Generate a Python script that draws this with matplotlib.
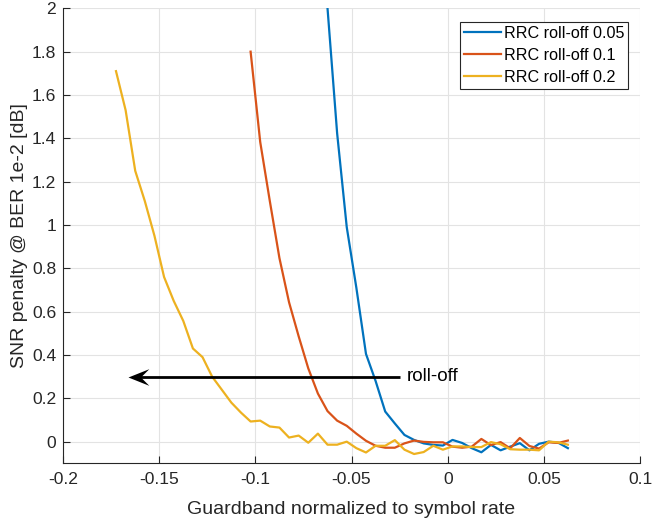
import numpy as np
import matplotlib
matplotlib.use("Agg")
import matplotlib.pyplot as plt
from matplotlib.path import Path

plt.rcParams['font.family'] = ['Liberation Sans', 'DejaVu Sans']
plt.rcParams['axes.unicode_minus'] = False

# ---- data ----
step = 0.005
x_005 = np.round(np.arange(-0.0625, 0.0626, step), 4)
y_005 = [2.0, 1.423, 0.99, 0.71, 0.405, 0.28, 0.139, 0.084, 0.031, 0.008,
         -0.008, -0.015, -0.018, 0.008, -0.006, -0.03, -0.049, -0.015, -0.04,
         -0.023, -0.007, -0.04, -0.01, 0.0, -0.005, -0.03]

x_010 = np.round(np.arange(-0.1025, 0.0626, step), 4)
y_010 = [1.80, 1.383, 1.11, 0.847, 0.643, 0.486, 0.338, 0.222, 0.141, 0.097,
         0.073, 0.037, 0.004, -0.019, -0.028, -0.028, -0.008, 0.005, -0.001,
         -0.003, -0.003, -0.023, -0.028, -0.023, 0.0125, -0.016, -0.002,
         -0.031, 0.017, -0.02, -0.032, -0.003, -0.006, 0.005]

x_020 = np.round(np.arange(-0.1725, 0.0626, step), 4)
y_020 = [1.71, 1.53, 1.25, 1.11, 0.95, 0.76, 0.65, 0.557, 0.43, 0.39, 0.30,
         0.24, 0.18, 0.134, 0.093, 0.097, 0.07, 0.065, 0.019, 0.028, -0.005,
         0.037, -0.014, -0.014, 0.0, -0.03, -0.05, -0.019, -0.019, 0.007,
         -0.037, -0.057, -0.048, -0.019, -0.037, -0.022, -0.022, -0.025,
         -0.025, -0.002, -0.012, -0.035, -0.037, -0.037, -0.04, 0.0, -0.003,
         -0.014]

labels = ['RRC roll-off 0.05', 'RRC roll-off 0.1', 'RRC roll-off 0.2']
colors = ['#0072BD', '#D95319', '#EDB120']

xticks = [-0.2, -0.15, -0.1, -0.05, 0, 0.05, 0.1]
xticklabels = ['-0.2', '-0.15', '-0.1', '-0.05', '0', '0.05', '0.1']
yticks = [0, 0.2, 0.4, 0.6, 0.8, 1.0, 1.2, 1.4, 1.6, 1.8, 2.0]
yticklabels = ['0', '0.2', '0.4', '0.6', '0.8', '1', '1.2', '1.4', '1.6', '1.8', '2']

arrow_start = (-0.025, 0.3)
arrow_end = (-0.1663, 0.3)
arrow_text = 'roll-off'

# ---- figure ----
fig = plt.figure(figsize=(6.52, 5.2), dpi=100)
ax = fig.add_axes([0.0968, 0.109, 0.9816 - 0.0968, 0.984 - 0.109])

dark = '#262626'
for xs, ys, c, lab in zip([x_005, x_010, x_020], [y_005, y_010, y_020], colors, labels):
    ax.plot(xs, ys, color=c, lw=1.6, label=lab, solid_joinstyle='round')

ax.set_xlim(-0.2, 0.1)
ax.set_ylim(-0.1, 2.0)
ax.set_xticks(xticks)
ax.set_xticklabels(xticklabels)
ax.set_yticks(yticks)
ax.set_yticklabels(yticklabels)
ax.tick_params(direction='in', length=5, width=0.8, colors=dark, labelsize=12.6,
               top=False, right=False)
ax.tick_params(axis='x', pad=6)
ax.tick_params(axis='y', pad=5)
ax.grid(True, color='#e3e3e3', lw=0.8)
ax.set_axisbelow(True)
for s in ['top', 'right']:
    ax.spines[s].set_visible(False)
for s in ['left', 'bottom']:
    ax.spines[s].set_color(dark)
    ax.spines[s].set_linewidth(0.8)

ax.set_xlabel('Guardband normalized to symbol rate', fontsize=14, color=dark, labelpad=10)
ax.set_ylabel('SNR penalty @ BER 1e-2 [dB]', fontsize=14, color=dark, labelpad=3)

# arrow shaft + head
ax.plot([arrow_start[0], arrow_end[0] + 0.004], [arrow_start[1], arrow_end[1]],
        color='black', lw=2.0, solid_capstyle='butt')
head = Path([(0, 0), (1, 0.4), (0.6, 0), (1, -0.4), (0, 0)],
            [Path.MOVETO, Path.LINETO, Path.LINETO, Path.LINETO, Path.CLOSEPOLY])
ax.plot([arrow_end[0]], [arrow_end[1]], marker=head, markersize=30,
        color='black', markeredgewidth=0)
ax.text(arrow_start[0] + 0.0035, arrow_start[1], arrow_text, fontsize=13.6,
        color='black', va='center', ha='left')

leg = ax.legend(loc='upper right', bbox_to_anchor=(0.98, 0.97), borderaxespad=0,
                fontsize=11.6, handlelength=2.3, handletextpad=0.2,
                labelspacing=0.42, borderpad=0.25, fancybox=False, framealpha=1,
                edgecolor=dark)
leg.get_frame().set_linewidth(0.8)
for t in leg.get_texts():
    t.set_color('black')

fig.savefig('out.png', dpi=100)
